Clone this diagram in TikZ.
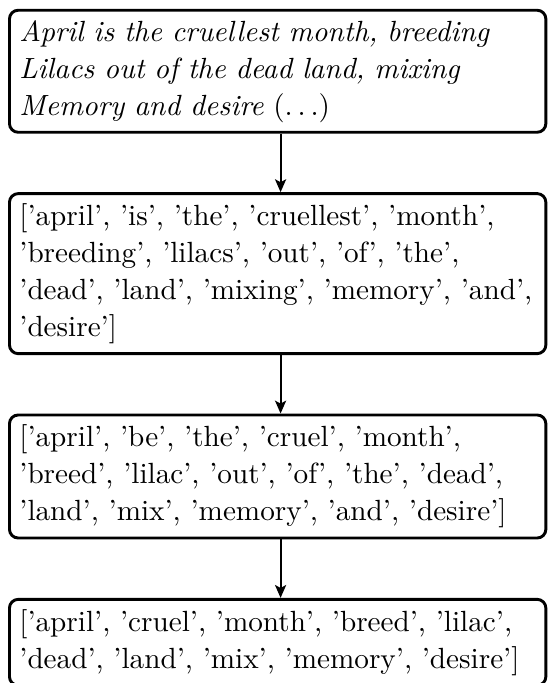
\documentclass[tikz,border=0pt]{standalone}
\usetikzlibrary{positioning,arrows.meta}
\begin{document}
\begin{tikzpicture}[x=1pt,y=1pt,
  textbox/.style={draw, line width=1pt, rounded corners=3pt, inner sep=3.4pt,
    text width=176.9pt, align=left,
    font=\fontsize{10}{12.67}\selectfont},
  flow/.style={-{Stealth[length=4.4pt,width=3.8pt,inset=1pt]}, line width=0.65pt}]
  \useasboundingbox (0,0) rectangle (187.7,-233.9);
  \node[textbox, anchor=north west] (raw) at (2.74,-3.0)
    {\itshape April is the cruellest month, breeding\\
     Lilacs out of the dead land, mixing\\
     Memory and desire \upshape$(\ldots)$};
  \node[textbox, below=20.0pt of raw] (tokens)
    {['april', 'is', 'the', 'cruellest', 'month',\\
     'breeding', 'lilacs', 'out', 'of', 'the',\\
     'dead', 'land', 'mixing', 'memory', 'and',\\
     'desire']};
  \node[textbox, below=20.0pt of tokens] (lemmas)
    {['april', 'be', 'the', 'cruel', 'month',\\
     'breed', 'lilac', 'out', 'of', 'the', 'dead',\\
     'land', 'mix', 'memory', 'and', 'desire']};
  \node[textbox, below=20.0pt of lemmas] (filtered)
    {['april', 'cruel', 'month', 'breed', 'lilac',\\
     'dead', 'land', 'mix', 'memory', 'desire']};
  \draw[flow] ([xshift=1pt]raw.south) -- ([xshift=1pt]tokens.north);
  \draw[flow] ([xshift=1pt]tokens.south) -- ([xshift=1pt]lemmas.north);
  \draw[flow] ([xshift=1pt]lemmas.south) -- ([xshift=1pt]filtered.north);
\end{tikzpicture}
\end{document}
